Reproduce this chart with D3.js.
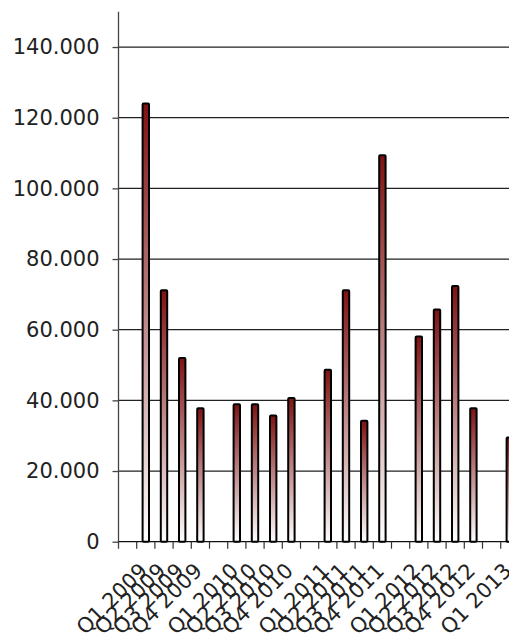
<!DOCTYPE html>
<html>
<head>
<meta charset="utf-8">
<script src="https://cdn.jsdelivr.net/npm/d3@7"></script>
<style>
  html, body { margin: 0; padding: 0; background: #fff; overflow: hidden; }
  svg { display: block; }
  text { font-family: "DejaVu Sans", Verdana, sans-serif; fill: #222; }
</style>
</head>
<body>
<svg id="chart" width="509" height="633"></svg>
<script>
// ---- data ----
const categories = ["", "Q1 2009", "Q2 2009", "Q3 2009", "Q4 2009", "",
  "Q1 2010", "Q2 2010", "Q3 2010", "Q4 2010", "",
  "Q1 2011", "Q2 2011", "Q3 2011", "Q4 2011", "",
  "Q1 2012", "Q2 2012", "Q3 2012", "Q4 2012", "",
  "Q1 2013"];
const values = [null, 124000, 71200, 52000, 37800, null,
  38900, 38900, 35700, 40700, null,
  48700, 71200, 34200, 109400, null,
  58100, 65700, 72400, 37800, null,
  29500];
const yTicks = [0, 20000, 40000, 60000, 80000, 100000, 120000, 140000];

// ---- layout ----
const svg = d3.select("#chart");
const W = 509, H = 633;
const x0 = 118.5, bandStep = 18.2;
const yBottom = 541.7, yTop = 11.7;

const x = d3.scaleBand()
  .domain(d3.range(categories.length))
  .range([x0, x0 + bandStep * categories.length])
  .paddingInner(0).paddingOuter(0);

const y = d3.scaleLinear().domain([0, 150000]).range([yBottom, yTop]);

const locale = d3.formatLocale({decimal: ",", thousands: ".", grouping: [3], currency: ["", ""]});
const fmt = locale.format(",.0f");

// gradient
const defs = svg.append("defs");
const grad = defs.append("linearGradient").attr("id", "barGrad")
  .attr("x1", 0).attr("y1", 0).attr("x2", 0).attr("y2", 1);
grad.append("stop").attr("offset", "0%").attr("stop-color", "#7e1212");
grad.append("stop").attr("offset", "100%").attr("stop-color", "#ffffff");

// gridlines
svg.append("g").selectAll("line").data(yTicks.filter(d => d > 0)).join("line")
  .attr("x1", x0).attr("x2", W)
  .attr("y1", d => y(d)).attr("y2", d => y(d))
  .attr("stroke", "#222").attr("stroke-width", 1.3);

// y axis
const yAxis = d3.axisLeft(y).tickValues(yTicks).tickFormat(fmt).tickSize(6).tickPadding(13);
const gy = svg.append("g").attr("transform", `translate(${x0},0)`).call(yAxis);
gy.select(".domain").remove();
gy.selectAll(".tick line").attr("stroke", "#444").attr("stroke-width", 1.3);
gy.selectAll(".tick text").style("font-size", "21px").attr("fill", "#222")
  .style("font-family", "'DejaVu Sans', Verdana, sans-serif");
svg.append("line").attr("x1", x0).attr("x2", x0).attr("y1", yTop).attr("y2", yBottom + 7)
  .attr("stroke", "#444").attr("stroke-width", 1.3);

// x axis baseline and ticks at band boundaries
svg.append("line").attr("x1", x0).attr("x2", W).attr("y1", yBottom).attr("y2", yBottom)
  .attr("stroke", "#111").attr("stroke-width", 1.3);
svg.append("g").selectAll("line").data(d3.range(1, categories.length + 1)).join("line")
  .attr("x1", i => x0 + i * x.step()).attr("x2", i => x0 + i * x.step())
  .attr("y1", yBottom).attr("y2", yBottom + 7)
  .attr("stroke", "#333").attr("stroke-width", 1.2);

// bars
const barW = 6.4;
svg.append("g").selectAll("rect")
  .data(values.map((v, i) => ({v, i})).filter(d => d.v !== null))
  .join("rect")
  .attr("x", d => x(d.i) + x.bandwidth() / 2 - barW / 2)
  .attr("width", barW)
  .attr("y", d => y(d.v))
  .attr("height", d => yBottom - y(d.v))
  .attr("rx", 1)
  .attr("fill", "url(#barGrad)")
  .attr("stroke", "#000").attr("stroke-width", 2);

// x labels
svg.append("g").selectAll("text")
  .data(categories.map((c, i) => ({c, i})).filter(d => d.c !== ""))
  .join("text")
  .attr("transform", d => `translate(${x(d.i) + x.bandwidth() / 2 + 3},572) rotate(-45)`)
  .attr("text-anchor", "end")
  .style("font-size", "21px")
  .text(d => d.c);
</script>
</body>
</html>
